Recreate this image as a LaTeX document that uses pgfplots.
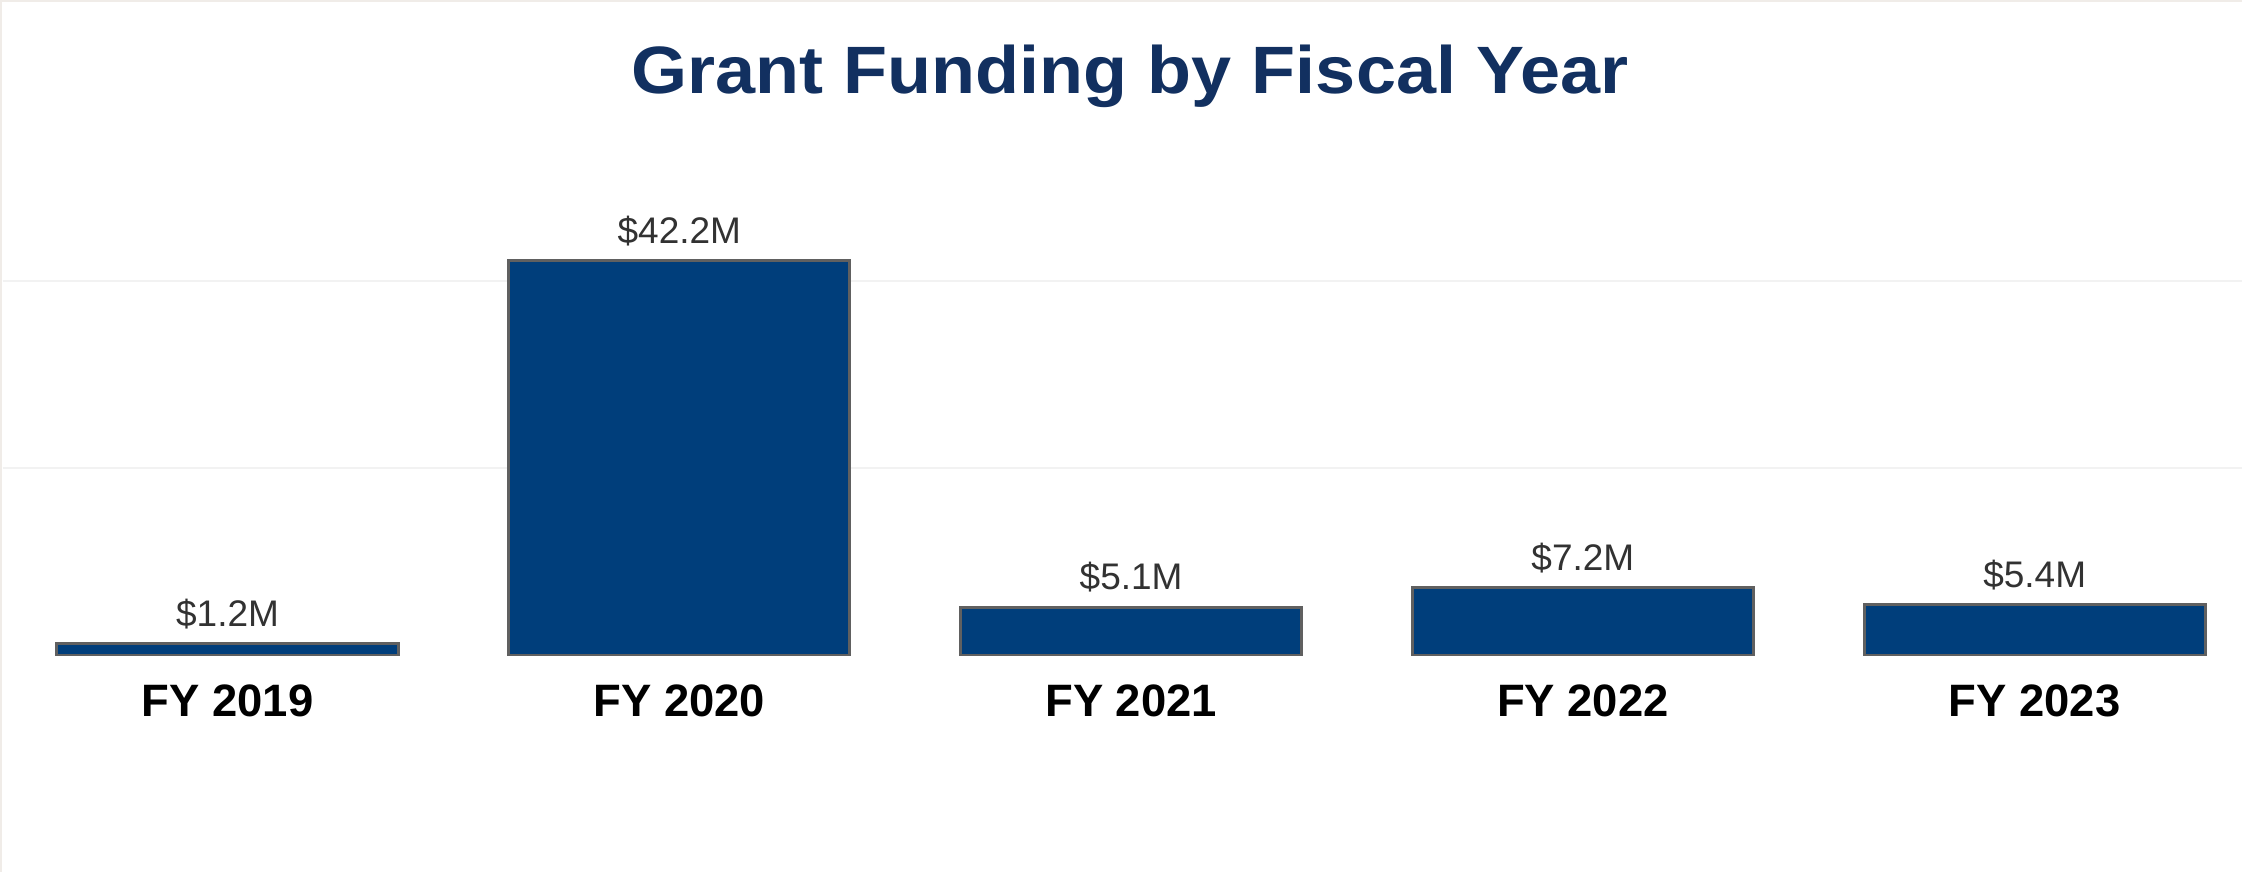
\documentclass[border=0pt]{standalone}
\usepackage{pgfplots}
\pgfplotsset{compat=1.18}
\usepackage{fontspec}
\setmainfont{Liberation Sans}

% colours
\definecolor{barblue}{RGB}{0,62,123}
\definecolor{baredge}{RGB}{96,96,96}
\definecolor{titleblue}{RGB}{18,48,96}
\definecolor{gridgray}{RGB}{242,242,242}
\definecolor{labelgray}{RGB}{50,50,50}
\definecolor{framebeige}{RGB}{240,236,232}

\begin{document}
\begin{tikzpicture}
    % 1 px of the reference = 0.5pt
    \useasboundingbox (0,0) rectangle (1121pt,-436pt);
    \fill[white] (0,0) rectangle (1121pt,-436pt);
    \draw[framebeige, line width=1pt] (0,-0.5pt) -- (1121pt,-0.5pt);
    \draw[framebeige, line width=1pt] (0.5pt,0) -- (0.5pt,-436pt);

    \node[anchor=base, text=titleblue, xscale=1.075,
          font=\fontsize{33.5}{40}\selectfont\bfseries]
        at (565pt,-47pt) {Grant Funding by Fiscal Year};

    \begin{axis}[
        scale only axis,
        at={(1.5pt,-327.5pt)},
        anchor=south west,
        width=1119.5pt,
        height=277.5pt,
        xmin=-0.497, xmax=4.459,
        ymin=0, ymax=59.36,
        axis line style={draw=none},
        xtick={0,1,2,3,4},
        xticklabels={FY 2019, FY 2020, FY 2021, FY 2022, FY 2023},
        xtick style={draw=none},
        xticklabel style={anchor=base, yshift=-26.5pt,
            font=\fontsize{22.7}{27}\selectfont\bfseries},
        ytick={20,40},
        yticklabels={},
        ytick style={draw=none},
        ymajorgrids,
        grid style={gridgray, line width=1.35pt},
        ybar,
        bar width=0.755,
        point meta=explicit symbolic,
        nodes near coords,
        nodes near coords style={anchor=base, yshift=8.7pt, text=labelgray,
            font=\fontsize{18.5}{22}\selectfont},
    ]
    \addplot[fill=barblue, draw=baredge, line width=1.5pt]
    coordinates {
        (0, 1.2)  [\$1.2M]
        (1, 42.2) [\$42.2M]
        (2, 5.1)  [\$5.1M]
        (3, 7.2)  [\$7.2M]
        (4, 5.4)  [\$5.4M]
    };
    \end{axis}
\end{tikzpicture}
\end{document}
